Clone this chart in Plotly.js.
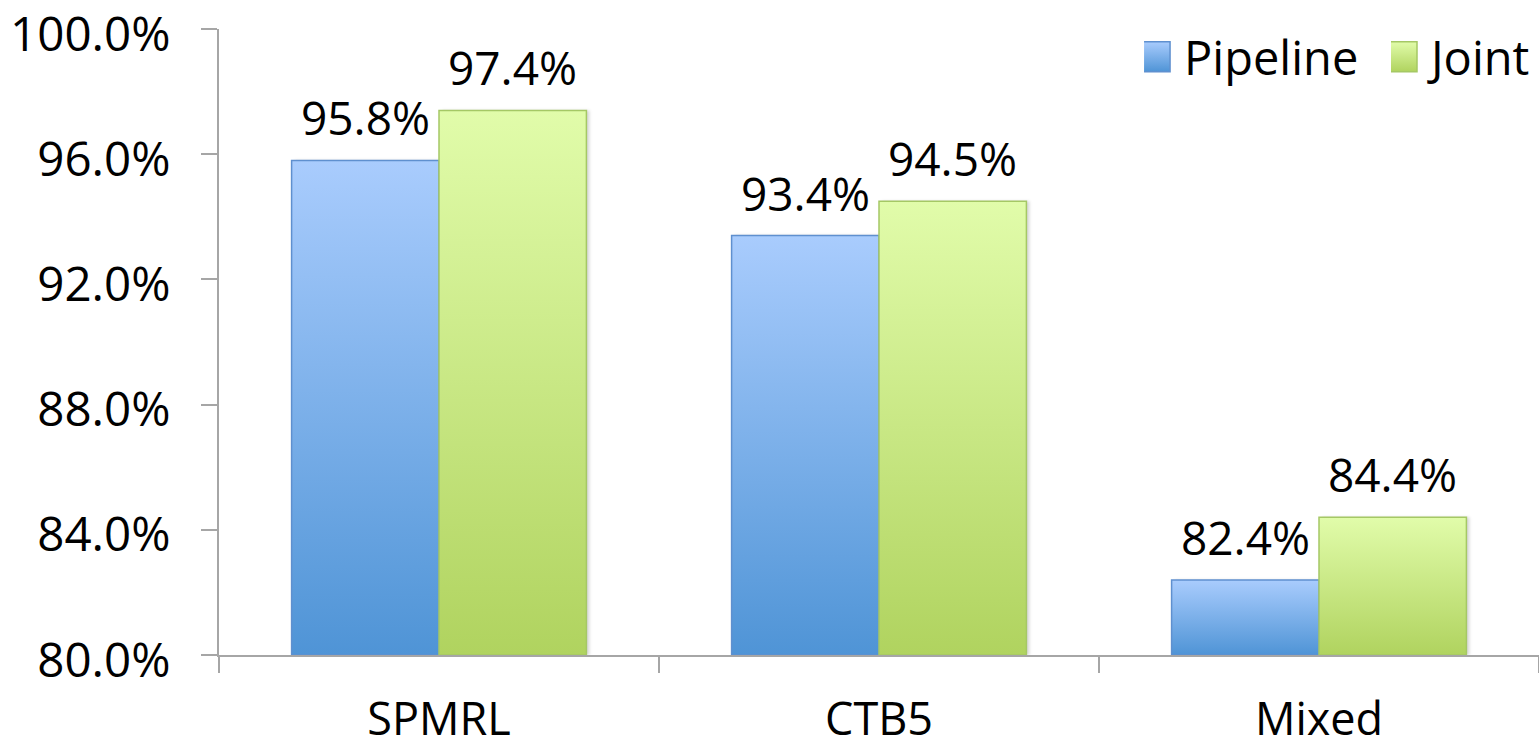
<!DOCTYPE html>
<html>
<head>
<meta charset="utf-8">
<script src="https://cdn.plot.ly/plotly-3.0.1.min.js"></script>
<style>
  html, body { margin: 0; padding: 0; background: #ffffff; }
  #chart { width: 1539px; height: 747px; }
</style>
</head>
<body>
<div id="chart"></div>
<script>
// Accuracy by dataset for the two systems
const categories = ['SPMRL', 'CTB5', 'Mixed'];
const pipelineValues = [95.8, 93.4, 82.4];
const jointValues = [97.4, 94.5, 84.4];
const seriesNames = ['Pipeline', 'Joint'];
const yTickValues = [80, 84, 88, 92, 96, 100];
const yTickLabels = yTickValues.map(v => v.toFixed(1) + '%');

const FONT = '"Open Sans", "Noto Sans", sans-serif';
const BAR_GAP = 0.33;
const halfBar = (1 - BAR_GAP) / 4;   // centre offset of each bar inside its group

const traces = [
  {
    type: 'bar', name: seriesNames[0], x: categories, y: pipelineValues, legend: 'legend',
    marker: { color: '#7fb1ee', line: { color: '#5f90cf', width: 1.5 } },
    hoverinfo: 'skip'
  },
  {
    type: 'bar', name: seriesNames[1], x: categories, y: jointValues, legend: 'legend2',
    marker: { color: '#c9e688', line: { color: '#a5c865', width: 1.5 } },
    hoverinfo: 'skip'
  }
];

// value labels above each bar
const annotations = [];
[pipelineValues, jointValues].forEach((vals, s) => {
  vals.forEach((v, i) => {
    annotations.push({
      x: i + (s === 0 ? -halfBar : halfBar), xref: 'x',
      y: v, yref: 'y', yanchor: 'bottom', yshift: 10,
      text: v.toFixed(1) + '%', showarrow: false,
      font: { family: FONT, size: 46, color: '#000000' }
    });
  });
});

const legendFont = { family: FONT, size: 47, color: '#000000' };

const layout = {
  width: 1539, height: 747,
  margin: { l: 219, r: 0, t: 29, b: 92 },
  paper_bgcolor: '#ffffff', plot_bgcolor: '#ffffff',
  barmode: 'group', bargap: BAR_GAP, bargroupgap: 0,
  showlegend: true,
  legend: {
    orientation: 'h', x: 0.7008, xanchor: 'left', y: 0.955, yanchor: 'middle',
    font: legendFont, bgcolor: 'rgba(0,0,0,0)', itemclick: false
  },
  legend2: {
    orientation: 'h', x: 1, xanchor: 'right', y: 0.955, yanchor: 'middle',
    font: legendFont, bgcolor: 'rgba(0,0,0,0)', itemclick: false
  },
  xaxis: {
    type: 'category', range: [-0.5, 2.5],
    tickson: 'boundaries', ticks: 'outside', ticklen: 16, tickwidth: 2, tickcolor: '#a6a6a6',
    showline: true, linecolor: '#a6a6a6', linewidth: 2,
    showgrid: false, zeroline: false,
    tickfont: { family: FONT, size: 45, color: '#000000' },
    ticklabelstandoff: 24
  },
  yaxis: {
    range: [80, 100], tickmode: 'array', tickvals: yTickValues, ticktext: yTickLabels,
    ticklabeloverflow: 'allow', ticklabelshift: 5,
    ticks: 'outside', ticklen: 16, tickwidth: 2, tickcolor: '#a6a6a6',
    showline: true, linecolor: '#a6a6a6', linewidth: 2,
    showgrid: false, zeroline: false,
    tickfont: { family: FONT, size: 47.5, color: '#000000' },
    ticklabelstandoff: 21
  },
  annotations: annotations
};

// vertical light-to-dark fills for the bars and legend swatches
const gradients = [
  { id: 'gradPipeline', top: '#a9ccfd', bottom: '#4f94d6' },
  { id: 'gradJoint', top: '#e1fcaa', bottom: '#b0d35f' }
];

function applyGradients(gd) {
  const svgNS = 'http://www.w3.org/2000/svg';
  const svg = gd.querySelector('svg.main-svg');
  let defs = svg.querySelector('defs');
  if (!defs) { defs = document.createElementNS(svgNS, 'defs'); svg.insertBefore(defs, svg.firstChild); }

  gradients.forEach(g => {
    const lg = document.createElementNS(svgNS, 'linearGradient');
    lg.setAttribute('id', g.id);
    lg.setAttribute('x1', '0'); lg.setAttribute('y1', '0');
    lg.setAttribute('x2', '0'); lg.setAttribute('y2', '1');
    [[0, g.top], [1, g.bottom]].forEach(([o, c]) => {
      const st = document.createElementNS(svgNS, 'stop');
      st.setAttribute('offset', String(o));
      st.setAttribute('stop-color', c);
      lg.appendChild(st);
    });
    defs.appendChild(lg);
  });

  // bars start at value 0, far below the visible range: trim each path to the
  // plot area so the gradient spans only the visible part of the bar
  const plotH = gd._fullLayout._size.h;
  const clampY = v => Math.max(0, Math.min(plotH, v));
  const re = /^M([-\d.e]+),([-\d.e]+)V([-\d.e]+)H([-\d.e]+)V([-\d.e]+)Z$/;

  gd.querySelectorAll('.barlayer .trace.bars').forEach((tr, idx) => {
    tr.querySelectorAll('.point path').forEach(p => {
      const m = (p.getAttribute('d') || '').match(re);
      if (m) {
        const x0 = +m[1], y0 = clampY(+m[2]), y1 = clampY(+m[3]), x1 = +m[4];
        p.setAttribute('d', 'M' + x0 + ',' + y0 + 'V' + y1 + 'H' + x1 + 'V' + y0 + 'Z');
      }
      // soft shadow to the right of each bar, a blurred copy behind it
      const sh = p.cloneNode(false);
      sh.removeAttribute('style');
      sh.setAttribute('fill', 'rgba(0,0,0,0.16)');
      sh.setAttribute('stroke', 'none');
      sh.setAttribute('transform', 'translate(3,0)');
      sh.style.filter = 'blur(1.5px)';
      p.parentNode.insertBefore(sh, p);

      p.style.fill = 'url(#' + gradients[idx].id + ')';
      p.style.fillOpacity = 1;
    });
  });

  gd.querySelectorAll('.legendpoints path').forEach(p => {
    const idx = p.style.fill.indexOf('127') >= 0 ? 0 : 1;
    p.setAttribute('d', 'M-24,-15h30v30h-30Z');
    p.style.fill = 'url(#' + gradients[idx].id + ')';
    p.style.fillOpacity = 1;
  });
}

Plotly.newPlot('chart', traces, layout, { staticPlot: true, displayModeBar: false })
  .then(applyGradients);
</script>
</body>
</html>
